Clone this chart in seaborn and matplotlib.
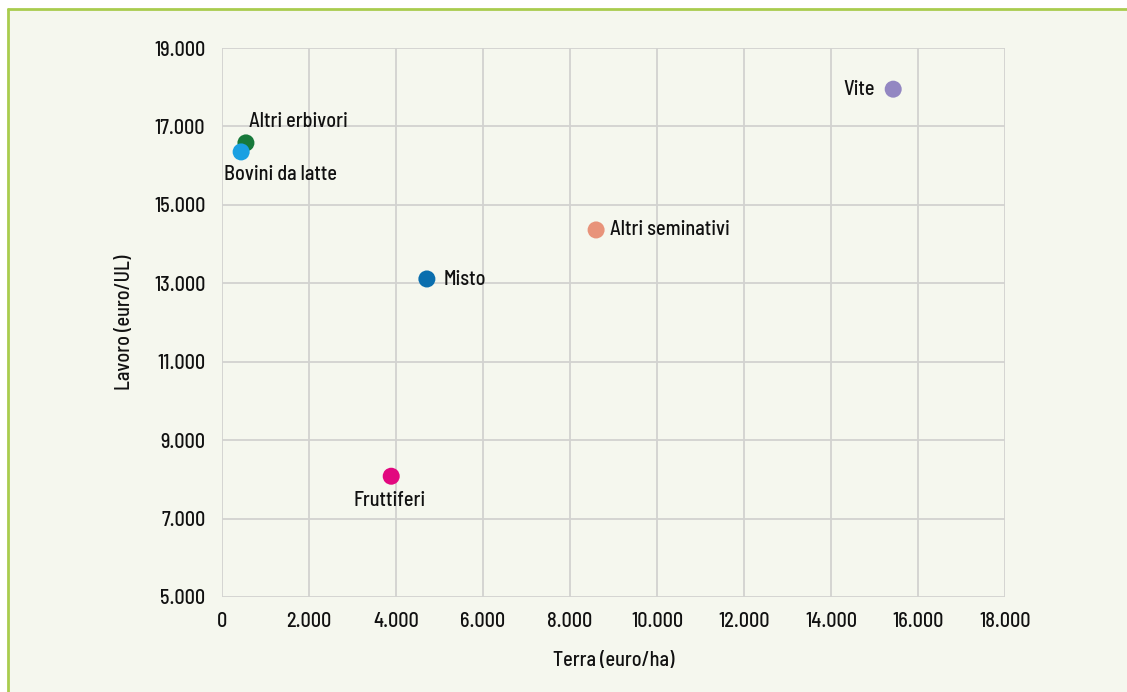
import numpy as np
import pandas as pd
import seaborn as sns
import matplotlib.pyplot as plt
from matplotlib import font_manager as fm
from matplotlib.ticker import FuncFormatter
from matplotlib.patches import Rectangle
from matplotlib.lines import Line2D

# dati
categorie = ["Altri erbivori", "Bovini da latte", "Vite", "Altri seminativi", "Misto", "Fruttiferi"]
terra = [550, 440, 15430, 8600, 4710, 3890]
lavoro = [16580, 16350, 17950, 14360, 13110, 8080]
colori = ["#17793a", "#1aa0e2", "#9387c2", "#e8937a", "#0a6eae", "#e2087f"]
tick_x = list(range(0, 18001, 2000))
tick_y = list(range(5000, 19001, 2000))

df = pd.DataFrame({"Categoria": categorie, "Terra": terra, "Lavoro": lavoro})

sns.set_theme(style="whitegrid")

# font condensato, se disponibile
disponibili = {f.name for f in fm.fontManager.ttflist}
preferiti = ["Barlow Semi Condensed", "Barlow Condensed", "Roboto Condensed",
             "Noto Sans Condensed", "Open Sans Condensed", "Liberation Sans Narrow",
             "Arial Narrow", "DejaVu Sans Condensed"]
scelto = next((p for p in preferiti if p in disponibili), None)
stretch = "normal"
if scelto is None:
    for fam in ["Noto Sans", "Open Sans", "Roboto", "DejaVu Sans"]:
        if any(f.name == fam and f.stretch in ("condensed", "semi-condensed")
               for f in fm.fontManager.ttflist):
            scelto, stretch = fam, "semi-condensed"
            break
if scelto is None:
    scelto = "Roboto"
plt.rcParams["font.family"] = [scelto, "DejaVu Sans"]
plt.rcParams["font.stretch"] = stretch

sfondo = "#f5f7ee"
peso = "medium"
dim = 14.5
fig = plt.figure(figsize=(11.27, 6.92), dpi=100, facecolor="white")

# riquadro di sfondo con bordo verde sopra e a sinistra
W, H = 1127, 692
fig.patches.append(Rectangle((8 / W, 0), 1, 1 - 9 / H, transform=fig.transFigure,
                             facecolor=sfondo, edgecolor="none", zorder=-10))
fig.lines.append(Line2D([8 / W, 1], [1 - 9 / H, 1 - 9 / H], transform=fig.transFigure,
                        color="#a9cc4e", lw=2, zorder=-9))
fig.lines.append(Line2D([8 / W, 8 / W], [0, 1 - 9 / H], transform=fig.transFigure,
                        color="#a9cc4e", lw=2, zorder=-9))

ax = fig.add_axes([222 / W, 1 - 597 / H, (1005 - 222) / W, (597 - 48) / H])
ax.set_facecolor(sfondo)

sns.scatterplot(data=df, x="Terra", y="Lavoro", hue="Categoria", palette=colori,
                s=150, edgecolor="none", legend=False, ax=ax, zorder=3)

# etichette: (dx, dy) in pixel, allineamento
posizioni = {
    "Altri erbivori": (3, 21, "left"),
    "Bovini da latte": (-17, -23, "left"),
    "Vite": (-18, 0, "right"),
    "Altri seminativi": (14, 0, "left"),
    "Misto": (17, -1, "left"),
    "Fruttiferi": (-2, -24, "center"),
}
for cat, x, y in zip(categorie, terra, lavoro):
    dx, dy, ha = posizioni[cat]
    ax.annotate(cat, (x, y), xytext=(dx, dy), textcoords="offset pixels",
                ha=ha, va="center", fontsize=dim, fontweight=peso, color="#111111")

ax.set_xlim(0, 18000)
ax.set_ylim(5000, 19000)
ax.set_xticks(tick_x)
ax.set_yticks(tick_y)
fmt = FuncFormatter(lambda v, p: f"{int(v):,}".replace(",", "."))
ax.xaxis.set_major_formatter(fmt)
ax.yaxis.set_major_formatter(fmt)
ax.grid(True, color="#d2d2d0", lw=1.3)
for s in ax.spines.values():
    s.set_visible(False)
ax.tick_params(axis="y", length=0, labelsize=dim, colors="#111111", pad=12)
ax.tick_params(axis="x", length=0, labelsize=dim, colors="#111111", pad=11)
for lab in ax.get_xticklabels() + ax.get_yticklabels():
    lab.set_fontweight(peso)

ax.set_xlabel("Terra (euro/ha)", fontsize=dim, fontweight=peso, color="#111111")
ax.set_ylabel("Lavoro (euro/UL)", fontsize=dim, fontweight=peso, color="#111111")
ax.xaxis.set_label_coords(0.5, -0.115)
ax.yaxis.set_label_coords(-0.124, 0.5)
ax.xaxis.label.set_va("center")
ax.yaxis.label.set_va("center")

fig.savefig("out.png", dpi=100, facecolor="white")
